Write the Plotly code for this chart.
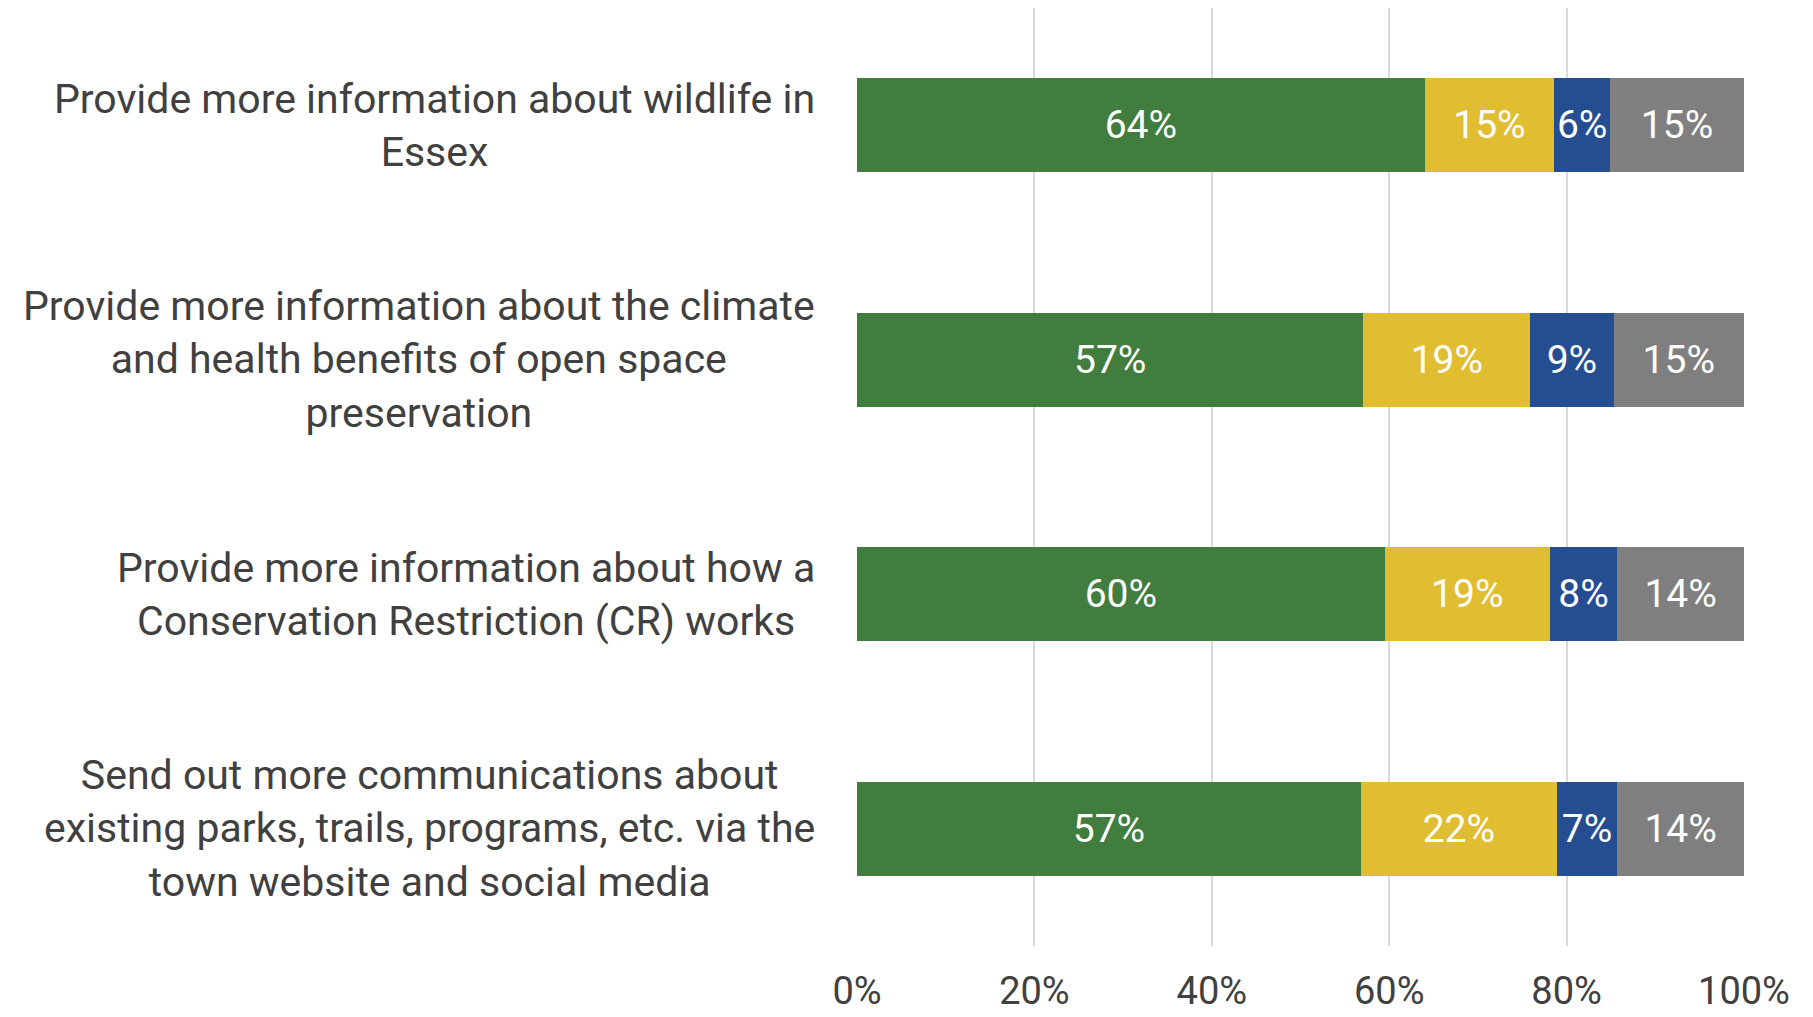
import plotly.graph_objects as go

# Data
categories = [
    "Provide more information about wildlife in<br>Essex",
    "Provide more information about the climate<br>and health benefits of open space<br>preservation",
    "Provide more information about how a<br>Conservation Restriction (CR) works",
    "Send out more communications about<br>existing parks, trails, programs, etc. via the<br>town website and social media",
]
series_names = ["Green", "Yellow", "Blue", "Grey"]
green_vals = [0.640, 0.571, 0.595, 0.568]
yellow_vals = [0.146, 0.188, 0.186, 0.221]
blue_vals = [0.063, 0.094, 0.076, 0.068]
grey_vals = [0.151, 0.147, 0.143, 0.143]
tick_vals = [0, 0.2, 0.4, 0.6, 0.8, 1.0]
tick_text = ["0%", "20%", "40%", "60%", "80%", "100%"]

colors = ["#407D3F", "#E1BD31", "#254D91", "#7F7F7F"]
all_vals = [green_vals, yellow_vals, blue_vals, grey_vals]

FONT = "Roboto"
TXT = "#404040"

fig = go.Figure()

for name, vals, color in zip(series_names, all_vals, colors):
    fig.add_trace(go.Bar(
        y=categories,
        x=vals,
        name=name,
        orientation="h",
        width=0.4,
        marker=dict(color=color, line=dict(width=0)),
        text=[f"{v:.0%}" for v in vals],
        textposition="inside",
        insidetextanchor="middle",
        textangle=0,
        constraintext="none",
        textfont=dict(color="white", size=39, family=FONT),
    ))

# category labels, centred lines like the original
for cat in categories:
    fig.add_annotation(
        x=0, xref="paper", xshift=-40,
        y=cat, yref="y",
        text=cat,
        showarrow=False,
        xanchor="right", yanchor="middle",
        align="center",
        font=dict(size=41, color=TXT, family=FONT),
    )

# page body has an 8px margin, so the figure is sized to fit the window
fig.update_layout(
    barmode="stack",
    width=1805,
    height=1009,
    margin=dict(l=849, r=69, t=0, b=71, autoexpand=False),
    plot_bgcolor="white",
    paper_bgcolor="white",
    showlegend=False,
    xaxis=dict(
        range=[0, 1],
        tickvals=tick_vals,
        ticktext=tick_text,
        showgrid=True,
        gridcolor="#D9D9D9",
        gridwidth=2,
        zeroline=False,
        showline=False,
        automargin=False,
        tickfont=dict(size=38, color=TXT, family=FONT),
        ticklabelstandoff=19,
    ),
    yaxis=dict(
        categoryorder="array",
        categoryarray=categories,
        autorange="reversed",
        showticklabels=False,
        showgrid=False,
        zeroline=False,
        automargin=False,
    ),
)

fig.write_html("out.html")
